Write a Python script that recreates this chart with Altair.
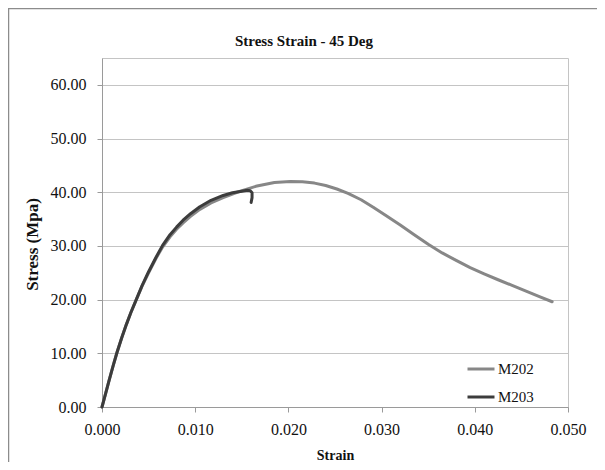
import altair as alt
import pandas as pd

# ---- data ----
series_names = ["M202", "M203"]
series_colors = ["#878787", "#3c3c3c"]
chart_title = "Stress Strain - 45 Deg"

m202_strain = [0.0000, 0.0004, 0.0008, 0.0012, 0.0016, 0.0021, 0.0026, 0.0031,
               0.0037, 0.0043, 0.0050, 0.0058, 0.0065, 0.0073, 0.0080, 0.0087,
               0.0095, 0.0105, 0.0117, 0.0130, 0.0145, 0.0165, 0.0185, 0.0202,
               0.0215, 0.0228, 0.0240, 0.0252, 0.0264, 0.0278, 0.0291, 0.0305,
               0.0320, 0.0335, 0.0350, 0.0365, 0.0380, 0.0395, 0.0410, 0.0425,
               0.0440, 0.0455, 0.0470, 0.0483]
m202_stress = [0.0, 2.6, 5.2, 7.7, 10.1, 12.8, 15.3, 17.6,
               20.1, 22.5, 25.0, 27.7, 29.8, 31.7, 33.1, 34.3,
               35.5, 36.8, 38.0, 39.0, 40.0, 41.1, 41.8, 42.0,
               41.95, 41.7, 41.25, 40.6, 39.8, 38.6, 37.2, 35.6,
               33.9, 32.1, 30.3, 28.7, 27.3, 25.95, 24.8, 23.7,
               22.65, 21.6, 20.5, 19.6]

m203_strain = [0.0000, 0.0004, 0.0008, 0.0012, 0.0016, 0.0021, 0.0026, 0.0031,
               0.0037, 0.0043, 0.0050, 0.0058, 0.0065, 0.0073, 0.0080, 0.0087,
               0.0095, 0.0105, 0.0117, 0.0130, 0.0140, 0.0150, 0.0156, 0.0159,
               0.0161, 0.0161, 0.0160]
m203_stress = [0.0, 2.6, 5.2, 7.7, 10.1, 12.8, 15.3, 17.6,
               20.1, 22.6, 25.2, 27.9, 30.1, 32.1, 33.5, 34.8,
               36.0, 37.3, 38.5, 39.4, 39.9, 40.2, 40.35, 40.3,
               39.9, 39.0, 38.1]

x_ticks = [0.0, 0.01, 0.02, 0.03, 0.04, 0.05]
y_ticks = [0, 10, 20, 30, 40, 50, 60]

rows = []
for name, xs, ys in [("M202", m202_strain, m202_stress), ("M203", m203_strain, m203_stress)]:
    for i, (sx, sy) in enumerate(zip(xs, ys)):
        rows.append({"series": name, "strain": sx, "stress": sy, "idx": i})
df = pd.DataFrame(rows)

FONT = "Liberation Serif"

lines = alt.Chart(df).mark_line(strokeWidth=3, strokeCap="round", strokeJoin="round").encode(
    x=alt.X("strain:Q",
            scale=alt.Scale(domain=[0, 0.05], nice=False, zero=False),
            axis=alt.Axis(title="Strain", values=x_ticks, format=".3f", grid=False,
                          labelFlush=False,
                          labelFontSize=16, labelFont=FONT, labelColor="#111111",
                          labelPadding=9, tickSize=5, tickColor="#9a9a9a",
                          domainColor="#9a9a9a",
                          titleFont=FONT, titleFontSize=14, titleFontWeight="bold",
                          titleColor="#111111", titleY=48, titleBaseline="middle")),
    y=alt.Y("stress:Q",
            scale=alt.Scale(domain=[0, 65], nice=False),
            axis=alt.Axis(title="Stress (Mpa)", values=y_ticks, format=".2f", grid=True,
                          gridColor="#c4c4c4", gridWidth=1, labelFlush=False,
                          labelFontSize=16, labelFont=FONT, labelColor="#111111",
                          labelPadding=11, tickSize=5, tickColor="#9a9a9a",
                          domainColor="#9a9a9a",
                          titleFont=FONT, titleFontSize=17, titleFontWeight="bold",
                          titleColor="#111111", titleX=-70, titleY=186,
                          titleAngle=270, titleAlign="center", titleBaseline="middle")),
    color=alt.Color("series:N",
                    scale=alt.Scale(domain=series_names, range=series_colors),
                    legend=alt.Legend(title=None, orient="none", legendX=364, legendY=296,
                                      symbolType="stroke", symbolSize=729,
                                      symbolStrokeWidth=3, labelFont=FONT,
                                      labelFontSize=15, labelColor="#111111",
                                      labelOffset=2, rowPadding=5, padding=0)),
    order=alt.Order("idx:Q"),
)

one = pd.DataFrame({"label": [chart_title]})
title_text = alt.Chart(one).mark_text(font=FONT, fontSize=15, fontWeight="bold",
                                      color="#111111", align="center",
                                      baseline="middle").encode(
    text="label:N", x=alt.value(202), y=alt.value(-17))

frame_top = alt.Chart(one).mark_rule(color="#8c8c8c", strokeWidth=1.5).encode(
    x=alt.value(-94), x2=alt.value(503), y=alt.value(-49.5))
frame_left = alt.Chart(one).mark_rule(color="#8c8c8c", strokeWidth=1.5).encode(
    x=alt.value(-93.5), y=alt.value(-50), y2=alt.value(404))

chart = alt.layer(lines, title_text, frame_top, frame_left).properties(
    width=466,
    height=349,
    padding={"left": 94, "top": 50, "right": 29, "bottom": 55},
    autosize=alt.AutoSizeParams(type="none"),
    background="white",
).configure_view(stroke="#c4c4c4", strokeWidth=1)

chart.save("out.html", embed_options={"renderer": "svg", "actions": False})
